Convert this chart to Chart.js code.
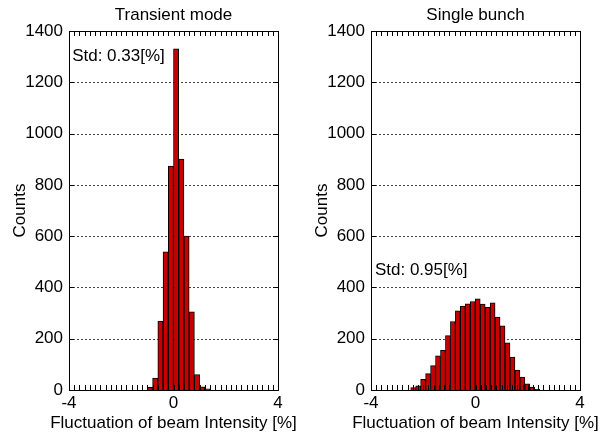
<!DOCTYPE html>
<html>
<head>
<meta charset="utf-8">
<script src="https://cdn.jsdelivr.net/npm/chart.js"></script>
<style>
body { margin: 0; background: #fff; }
#c1 { position: absolute; left: 0; top: 0; }
#c2 { position: absolute; left: 302px; top: 0; }
</style>
</head>
<body>
<canvas id="c1" width="300" height="435"></canvas>
<canvas id="c2" width="313" height="435"></canvas>
<script>
// transient mode histogram (bin centres in %, counts)
const transCenters = [-0.9, -0.7, -0.5, -0.3, -0.1, 0.1, 0.3, 0.5, 0.7, 0.9, 1.1, 1.3];
const transCounts = [10, 46, 268, 539, 873, 1330, 901, 600, 305, 60, 12, 5];

// single bunch histogram
const singleCenters = [-2.385, -2.195, -2.005, -1.815, -1.625, -1.435, -1.245, -1.055, -0.865, -0.675,
  -0.485, -0.295, -0.105, 0.085, 0.275, 0.465, 0.655, 0.845, 1.035, 1.225,
  1.415, 1.605, 1.795, 1.985, 2.175, 2.365];
const singleCounts = [9, 16, 42, 64, 95, 133, 155, 212, 267, 309,
  327, 336, 345, 356, 335, 322, 340, 284, 250, 184,
  128, 78, 50, 24, 11, 3];

const xTickValues = [-4, 0, 4];
const yMax = 1400;
const yStep = 200;
const xLabel = 'Fluctuation of beam Intensity [%]';

const FONT = '17px "Liberation Sans", Arial, sans-serif';
Chart.defaults.font.family = '"Liberation Sans", Arial, sans-serif';
Chart.defaults.font.size = 17;
Chart.defaults.color = '#000';

// frame, dotted grid, inward ticks, titles and the Std label
const framePlugin = {
  id: 'frame',
  beforeDatasetsDraw(chart) {
    const {ctx, chartArea: a, scales: {y}} = chart;
    ctx.save();
    ctx.strokeStyle = '#444';
    ctx.lineWidth = 1;
    ctx.setLineDash([2, 2]);
    for (let v = yStep; v < yMax; v += yStep) {
      const py = Math.round(y.getPixelForValue(v)) + 0.5;
      ctx.beginPath();
      ctx.moveTo(a.left, py);
      ctx.lineTo(a.right, py);
      ctx.stroke();
    }
    ctx.restore();
  },
  afterDatasetsDraw(chart, args, opts) {
    const {ctx, chartArea: a, scales: {x, y}} = chart;
    ctx.save();
    ctx.strokeStyle = '#000';
    ctx.lineWidth = 1;
    // minor ticks every 0.2 on top and bottom
    ctx.beginPath();
    for (let i = 0; i <= 40; i++) {
      const px = Math.round(x.getPixelForValue(-4 + i * 0.2)) + 0.5;
      ctx.moveTo(px, a.bottom);
      ctx.lineTo(px, a.bottom - 5);
      ctx.moveTo(px, a.top);
      ctx.lineTo(px, a.top + 5);
    }
    // y ticks left and right
    for (let v = yStep; v < yMax; v += yStep) {
      const py = Math.round(y.getPixelForValue(v)) + 0.5;
      ctx.moveTo(a.left, py);
      ctx.lineTo(a.left + 5, py);
      ctx.moveTo(a.right, py);
      ctx.lineTo(a.right - 5, py);
    }
    ctx.stroke();
    ctx.strokeRect(Math.round(a.left) + 0.5, Math.round(a.top) + 0.5,
      Math.round(a.right - a.left), Math.round(a.bottom - a.top));

    ctx.fillStyle = '#000';
    ctx.font = FONT;
    ctx.textBaseline = 'middle';
    ctx.textAlign = 'left';
    ctx.fillText(opts.text, x.getPixelForValue(opts.tx), y.getPixelForValue(opts.ty));
    const cx = (a.left + a.right) / 2;
    ctx.textAlign = 'center';
    ctx.fillText(opts.title, cx, 15);
    ctx.fillText(xLabel, cx, 423);
    ctx.restore();
  }
};

function makeChart(id, title, centers, counts, stdText, stdX, stdY, padRight) {
  const pts = centers.map((c, i) => ({x: c, y: counts[i]}));
  return new Chart(document.getElementById(id), {
    type: 'bar',
    data: {
      datasets: [{
        data: pts,
        backgroundColor: '#c80000',
        borderColor: '#000',
        borderWidth: 1,
        barPercentage: 1,
        categoryPercentage: 1
      }]
    },
    options: {
      responsive: false,
      animation: false,
      layout: {padding: {left: 0, right: padRight, top: 31, bottom: 0}},
      plugins: {
        legend: {display: false},
        tooltip: {enabled: false},
        frame: {text: stdText, tx: stdX, ty: stdY, title: title}
      },
      scales: {
        x: {
          type: 'linear',
          min: -4,
          max: 4,
          offset: false,
          grid: {display: false, drawTicks: false},
          border: {display: false},
          afterBuildTicks: s => { s.ticks = xTickValues.map(v => ({value: v})); },
          ticks: {padding: 3, maxRotation: 0, callback: v => String(v)},
          afterFit: s => { s.height = 45; }
        },
        y: {
          min: 0,
          max: yMax,
          grid: {display: false, drawTicks: false},
          border: {display: false},
          ticks: {stepSize: yStep, padding: 6, callback: v => String(v)},
          title: {display: true, text: 'Counts', padding: {top: 10, bottom: 0}},
          afterFit: s => { s.width = 69; }
        }
      }
    },
    plugins: [framePlugin]
  });
}

makeChart('c1', 'Transient mode', transCenters, transCounts, 'Std: 0.33[%]', -3.88, 1300, 22);
makeChart('c2', 'Single bunch', singleCenters, singleCounts, 'Std: 0.95[%]', -3.85, 467, 35);
</script>
</body>
</html>
